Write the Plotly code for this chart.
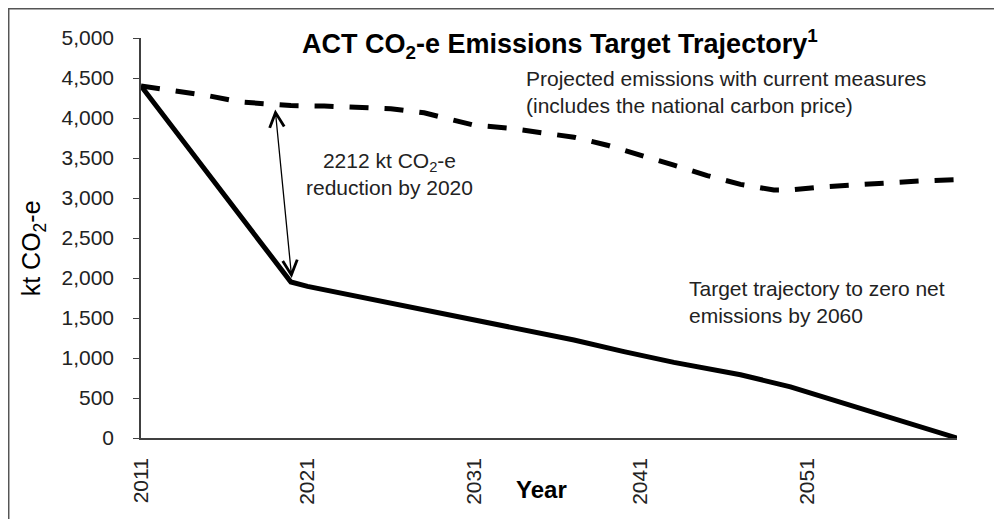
import plotly.graph_objects as go

# target trajectory (solid line)
target_years = [2011, 2020, 2021, 2024, 2028, 2031, 2034, 2037, 2040, 2043, 2047, 2050, 2060]
target_kt = [4400, 1950, 1895, 1770, 1605, 1465, 1350, 1225, 1080, 945, 790, 640, 0]

# projected emissions with current measures (dashed line)
proj_years = [2011, 2013, 2015, 2017, 2019, 2020, 2022, 2024, 2026, 2028, 2030, 2031, 2033,
              2035, 2037, 2039, 2041, 2043, 2045, 2047, 2049, 2050, 2052, 2054, 2056, 2058, 2060]
proj_kt = [4400, 4345, 4280, 4200, 4160, 4155, 4150, 4135, 4115, 4065, 3960, 3910, 3875,
           3825, 3760, 3660, 3540, 3410, 3280, 3170, 3100, 3100, 3140, 3170, 3195, 3215, 3230]

x_ticks = [2011, 2021, 2031, 2041, 2051]
y_ticks = [0, 500, 1000, 1500, 2000, 2500, 3000, 3500, 4000, 4500, 5000]

FONT = "Liberation Sans, Arial, sans-serif"

fig = go.Figure()

fig.add_trace(go.Scatter(
    x=proj_years, y=proj_kt, mode="lines",
    line=dict(color="black", width=5, dash="19px,16px"),
    showlegend=False, hoverinfo="x+y"
))
fig.add_trace(go.Scatter(
    x=target_years, y=target_kt, mode="lines",
    line=dict(color="black", width=5),
    showlegend=False, hoverinfo="x+y"
))

# double-headed arrow showing the 2020 gap
fig.add_annotation(
    x=2020.05, y=2000, ax=2019.05, ay=4125,
    xref="x", yref="y", axref="x", ayref="y",
    text="", showarrow=True, arrowside="end+start",
    arrowhead=5, startarrowhead=5, arrowsize=2.2, startarrowsize=2.2,
    arrowwidth=1.3, arrowcolor="black"
)

txt = dict(family=FONT, size=21, color="#222222")

fig.add_annotation(
    text="<b>ACT CO<sub>2</sub>-e Emissions Target Trajectory<sup>1</sup></b>",
    xref="paper", yref="paper", x=0.5135, y=0.985, xanchor="center", yanchor="middle",
    showarrow=False, font=dict(family=FONT, size=27, color="black")
)
fig.add_annotation(
    text="Projected emissions with current measures<br>(includes the national carbon price)",
    xref="paper", yref="paper", x=0.4694, y=0.865, xanchor="left", yanchor="middle",
    align="left", showarrow=False, font=txt
)
fig.add_annotation(
    text="2212 kt CO<sub>2</sub>-e<br>reduction by 2020",
    xref="paper", yref="paper", x=0.305, y=0.659, xanchor="center", yanchor="middle",
    align="center", showarrow=False, font=txt
)
fig.add_annotation(
    text="Target trajectory to zero net<br>emissions by 2060",
    xref="paper", yref="paper", x=0.669, y=0.341, xanchor="left", yanchor="middle",
    align="left", showarrow=False, font=txt
)
fig.add_annotation(
    text="kt CO<sub>2</sub>-e", textangle=-90,
    xref="paper", yref="paper", x=-0.132, y=0.475, xanchor="center", yanchor="middle",
    showarrow=False, font=dict(family=FONT, size=25, color="black")
)
fig.add_annotation(
    text="<b>Year</b>",
    xref="paper", yref="paper", x=0.491, y=-0.13, xanchor="center", yanchor="middle",
    showarrow=False, font=dict(family=FONT, size=24, color="black")
)

# outer frame (only its left and top edges fall inside the picture)
fig.add_shape(
    type="rect", xref="paper", yref="paper",
    x0=-0.1621, y0=-0.25, x1=1.08, y1=1.0731,
    line=dict(color="#555555", width=1.5), layer="below"
)

fig.update_xaxes(
    range=[2011, 2060], tickvals=x_ticks, tickangle=-90,
    ticks="", showline=True, linecolor="#404040", linewidth=1.5,
    showgrid=False, zeroline=False, ticklabelstandoff=10,
    tickfont=dict(family=FONT, size=21, color="#222222")
)
fig.update_yaxes(
    range=[0, 5000], tickvals=y_ticks, tickformat=",",
    ticks="outside", ticklen=6, tickcolor="#404040",
    showline=True, linecolor="#404040", linewidth=1.5,
    showgrid=False, zeroline=False, ticklabelstandoff=15,
    tickfont=dict(family=FONT, size=21, color="#222222")
)

# the page adds an 8px body margin, so the figure is 8px smaller each way
fig.update_layout(
    width=994, height=511,
    margin=dict(l=133, r=45, t=30, b=81),
    plot_bgcolor="white", paper_bgcolor="white",
    showlegend=False
)

fig.write_html("out.html")
